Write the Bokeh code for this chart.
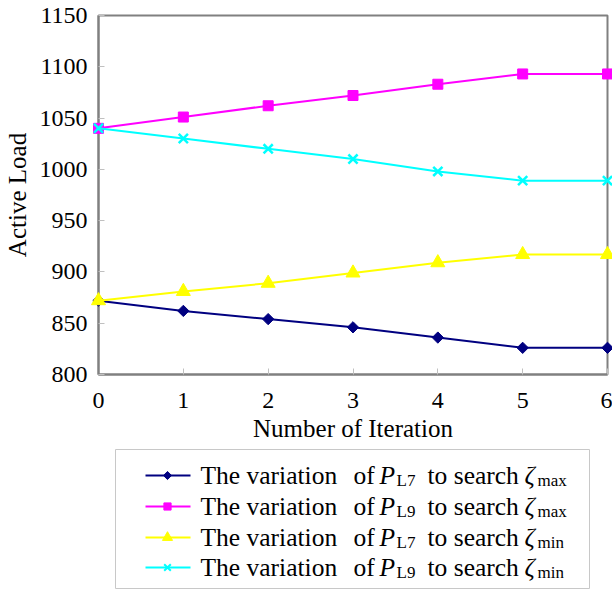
import numpy as np
from bokeh.plotting import figure
from bokeh.models import Range1d, FixedTicker
from bokeh.layouts import column
from bokeh.embed import file_html
from bokeh.resources import INLINE
from bokeh.core.properties import value

# ---------------- data ----------------
iterations = [0, 1, 2, 3, 4, 5, 6]
pl7_max = [872, 862, 854, 846, 836, 826, 826]
pl9_max = [1040, 1051, 1062, 1072, 1083, 1093, 1093]
pl7_min = [872, 881, 889, 899, 909, 917, 917]
pl9_min = [1040, 1030, 1020, 1010, 998, 989, 989]
y_ticks = [800, 850, 900, 950, 1000, 1050, 1100, 1150]
x_ticks = [0, 1, 2, 3, 4, 5, 6]
legend_words = ["The variation", "of"]
legend_var = "P"
legend_loads = ["L7", "L9", "L7", "L9"]
legend_mid = "to search"
legend_zeta = "\u03b6"
legend_goal = ["max", "max", "min", "min"]
x_label = "Number of Iteration"
y_label = "Active Load"

FONT = "Liberation Serif"
AX = "#808080"
TICK = "#c0c0c0"

styles = [
    dict(data=pl7_max, color="#000080", marker="square", size=8, angle=np.pi / 4, lw=1),
    dict(data=pl9_max, color="#FF00FF", marker="square", size=10, angle=0, lw=1),
    dict(data=pl7_min, color="#FFFF00", marker="triangle", size=14, angle=0, lw=1),
    dict(data=pl9_min, color="#00FFFF", marker="x", size=13, angle=0, lw=2.5),
]

W = 612
BL, BR = 98, 5          # frame left / right borders (page px)
MAIN_H = 445
LEG_H = 145

# ---------------- main plot ----------------
p = figure(width=W, height=MAIN_H, x_range=Range1d(0, 6), y_range=Range1d(800, 1150),
           output_backend="svg", toolbar_location=None,
           min_border_left=BL, min_border_right=BR, min_border_top=15, min_border_bottom=71)
p.background_fill_color = "white"
p.border_fill_color = "white"
p.outline_line_color = AX
p.outline_line_width = 2
p.xgrid.visible = False
p.ygrid.visible = False

p.xaxis.ticker = FixedTicker(ticks=x_ticks)
p.yaxis.ticker = FixedTicker(ticks=y_ticks)
for ax in (p.xaxis[0], p.yaxis[0]):
    ax.axis_line_color = AX
    ax.axis_line_width = 2
    ax.major_tick_in = 6
    ax.major_tick_out = 0
    ax.major_tick_line_color = TICK
    ax.major_tick_line_width = 1
    ax.minor_tick_line_color = None
    ax.major_label_text_font = FONT
    ax.major_label_text_font_size = "24px"
    ax.major_label_text_color = "black"
    ax.axis_label_text_font = FONT
    ax.axis_label_text_font_size = "25px"
    ax.axis_label_text_font_style = "normal"
    ax.axis_label_text_color = "black"
p.xaxis.axis_label = x_label
p.yaxis.axis_label = y_label
p.xaxis.major_label_standoff = 18
p.xaxis.axis_label_standoff = 4
p.yaxis.major_label_standoff = 11
p.yaxis.axis_label_standoff = 6

for st in styles:
    p.line(iterations, st["data"], line_color=st["color"], line_width=2, level="overlay")
    p.scatter(iterations, st["data"], marker=st["marker"], size=st["size"], angle=st["angle"],
              fill_color=st["color"], line_color=st["color"], line_width=st["lw"],
              level="overlay")

# ---------------- legend (drawn below, in page pixel coordinates) ----------------
top = MAIN_H
lg = figure(width=W, height=LEG_H, x_range=Range1d(BL, W - BR), y_range=Range1d(top + LEG_H, top),
            output_backend="svg", toolbar_location=None,
            min_border_left=BL, min_border_right=BR, min_border_top=0, min_border_bottom=0,
            x_axis_type=None, y_axis_type=None)
lg.outline_line_color = None
lg.xgrid.visible = False
lg.ygrid.visible = False
lg.background_fill_color = "white"
lg.border_fill_color = "white"

box_l, box_r, box_t, box_b = 115, 589, 449, 588
lg.quad(left=[box_l], right=[box_r], top=[box_t], bottom=[box_b],
        fill_color=None, line_color="#c8c8c8", line_width=1)

row_y = [475, 506, 537, 567]
fs_main = "25.5px"
fs_sub = "17px"


def txt(x, y, s, size, style="normal"):
    lg.text([x], [y], text=[s], text_font=value(FONT), text_font_size=size,
            text_font_style=style, text_baseline="middle", text_color="black")


for i, st in enumerate(styles):
    y = row_y[i]
    lg.line([145, 190], [y, y], line_color=st["color"], line_width=2)
    lg.scatter([167], [y], marker=st["marker"], size=st["size"] * 0.72, angle=st["angle"],
               fill_color=st["color"], line_color=st["color"], line_width=min(st["lw"], 2))
    txt(200, y, legend_words[0], fs_main)
    txt(353, y, legend_words[1], fs_main)
    txt(379, y, legend_var, fs_main, "italic")
    txt(396, y + 5, legend_loads[i], fs_sub)
    txt(427, y, legend_mid, fs_main)
    txt(524, y, legend_zeta, fs_main, "italic")
    txt(537, y + 5, legend_goal[i], fs_sub)

layout = column(p, lg, spacing=0)
open("out.html", "w").write(file_html(layout, INLINE))
